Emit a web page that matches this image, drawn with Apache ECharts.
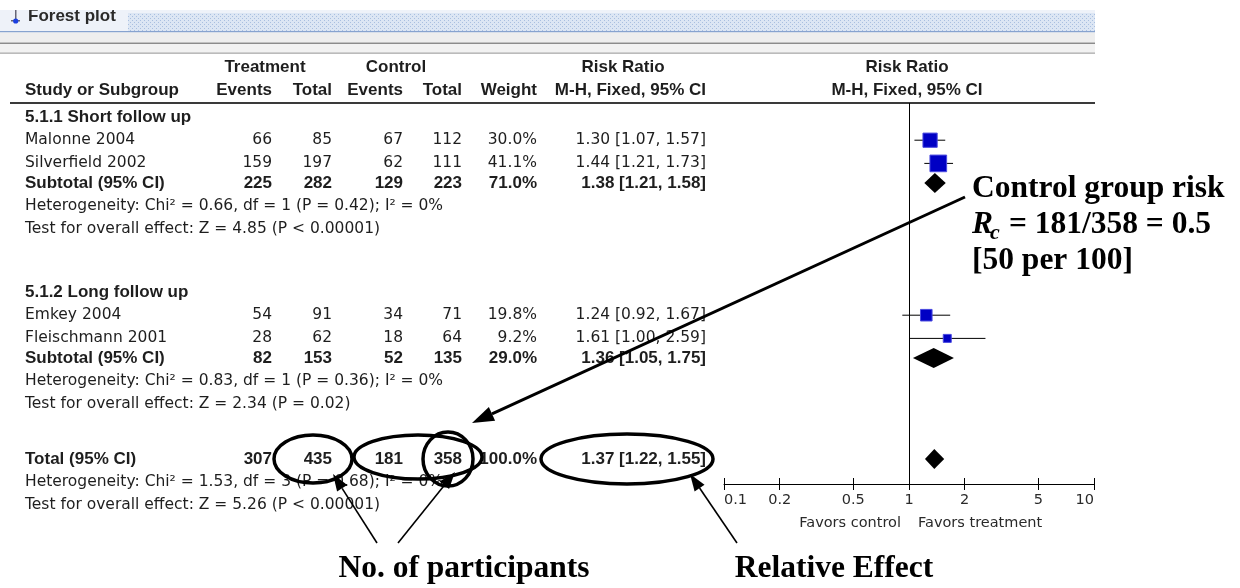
<!DOCTYPE html>
<html><head><meta charset="utf-8">
<script src="https://cdn.jsdelivr.net/npm/echarts@6/dist/echarts.min.js"></script>
<style>html,body{margin:0;padding:0;background:#fff}#c{width:1240px;height:588px}</style>
</head><body><div id="c"></div>
<script>
// ---------------- data ----------------
const studies   = ['Malonne 2004', 'Silverfield 2002', 'Emkey 2004', 'Fleischmann 2001'];
const studyGroup = [0, 0, 1, 1];
const trtEvents = [66, 159, 54, 28];
const trtTotal  = [85, 197, 91, 62];
const ctlEvents = [67, 62, 34, 18];
const ctlTotal  = [112, 111, 71, 64];
const weights   = [30.0, 41.1, 19.8, 9.2];
const rr        = [1.30, 1.44, 1.24, 1.61];
const rrLow     = [1.07, 1.21, 0.92, 1.00];
const rrHigh    = [1.57, 1.73, 1.67, 2.59];

const subgroups    = ['5.1.1 Short follow up', '5.1.2 Long follow up'];
const subTrtEvents = [225, 82];
const subTrtTotal  = [282, 153];
const subCtlEvents = [129, 52];
const subCtlTotal  = [223, 135];
const subWeights   = [71.0, 29.0];
const subRR        = [1.38, 1.36];
const subLow       = [1.21, 1.05];
const subHigh      = [1.58, 1.75];
const subHet  = ['Heterogeneity: Chi\u00b2 = 0.66, df = 1 (P = 0.42); I\u00b2 = 0%',
                 'Heterogeneity: Chi\u00b2 = 0.83, df = 1 (P = 0.36); I\u00b2 = 0%'];
const subTest = ['Test for overall effect: Z = 4.85 (P < 0.00001)',
                 'Test for overall effect: Z = 2.34 (P = 0.02)'];

const totalTrtEvents = 307, totalTrtTotal = 435, totalCtlEvents = 181, totalCtlTotal = 358;
const totalWeight = 100.0;
const totalRR = 1.37, totalLow = 1.22, totalHigh = 1.55;
const totalHet  = 'Heterogeneity: Chi\u00b2 = 1.53, df = 3 (P = 0.68); I\u00b2 = 0%';
const totalTest = 'Test for overall effect: Z = 5.26 (P < 0.00001)';

const axisTicks  = [0.1, 0.2, 0.5, 1, 2, 5, 10];
const axisTitles = ['Favors control', 'Favors treatment'];

// ---------------- layout / style ----------------
const W = 1240, H = 588;
const FIRST_ROW = 117;                                  // centre of first table row (px)
const PITCH = {group: 29, study: 23.2, sub: 19.5, note: 23.2, total: 21, blank: 33.7};
const FS = 15.5, FF = '"DejaVu Sans", Verdana, sans-serif';
const FSB = 17, FFB = '"Liberation Sans", Arial, sans-serif';
const SERIF = '"Liberation Serif", "Times New Roman", serif';
const SFS = 31.5;
const TXT = '#1e1e1e';
const COL = {te: 272, tt: 332, ce: 403, ct: 462, w: 537, rr: 706};
const PLOT = {left: 724, right: 1094, top: 103, bottom: 484};

const fmtRR = (a, l, h) => a.toFixed(2) + ' [' + l.toFixed(2) + ', ' + h.toFixed(2) + ']';

// build the row list
const rows = [];
const studyRow = [], subRow = [];
subgroups.forEach((g, gi) => {
  rows.push({kind: 'group', text: g});
  studies.forEach((s, k) => { if (studyGroup[k] === gi) { studyRow[k] = rows.length; rows.push({kind: 'study', k}); } });
  subRow[gi] = rows.length; rows.push({kind: 'sub', g: gi});
  rows.push({kind: 'note', text: subHet[gi]});
  rows.push({kind: 'note', text: subTest[gi]});
  rows.push({kind: 'blank'});
});
const totalRow = rows.length;
rows.push({kind: 'total'});
rows.push({kind: 'note', text: totalHet});
rows.push({kind: 'note', text: totalTest});

// vertical slot of each row (layout)
const rowPos = [];
rows.forEach((r, i) => { rowPos[i] = i === 0 ? FIRST_ROW : rowPos[i - 1] + PITCH[r.kind]; });

function tableItem(params, api) {
  const i = api.value(2);
  const r = rows[i];
  const y = api.coord([0, api.value(1)])[1];
  const ch = [];
  const t = (x, s, align, bold) => ch.push({type: 'text', style: {
    x: x, y: y, text: String(s), align: align, verticalAlign: 'middle',
    fontSize: bold ? FSB : FS, fontWeight: bold ? 'bold' : 'normal', fontFamily: bold ? FFB : FF, fill: TXT}});
  const nums = (a, b, c, d, w, rrs, bold) => {
    t(COL.te, a, 'right', bold); t(COL.tt, b, 'right', bold);
    t(COL.ce, c, 'right', bold); t(COL.ct, d, 'right', bold);
    t(COL.w, w.toFixed(1) + '%', 'right', bold); t(COL.rr, rrs, 'right', bold);
  };
  if (r.kind === 'group') t(25, r.text, 'left', true);
  else if (r.kind === 'note') t(25, r.text, 'left', false);
  else if (r.kind === 'study') {
    const k = r.k;
    t(25, studies[k], 'left', false);
    nums(trtEvents[k], trtTotal[k], ctlEvents[k], ctlTotal[k], weights[k], fmtRR(rr[k], rrLow[k], rrHigh[k]), false);
  } else if (r.kind === 'sub') {
    const g = r.g;
    t(25, 'Subtotal (95% CI)', 'left', true);
    nums(subTrtEvents[g], subTrtTotal[g], subCtlEvents[g], subCtlTotal[g], subWeights[g], fmtRR(subRR[g], subLow[g], subHigh[g]), true);
  } else if (r.kind === 'total') {
    t(25, 'Total (95% CI)', 'left', true);
    nums(totalTrtEvents, totalTrtTotal, totalCtlEvents, totalCtlTotal, totalWeight, fmtRR(totalRR, totalLow, totalHigh), true);
  }
  return {type: 'group', children: ch};
}

function studyItem(params, api) {
  const row = api.value(1);
  const c = api.coord([api.value(0), row]);
  const l = api.coord([api.value(2), row]);
  const h = api.coord([api.value(3), row]);
  const s = Math.max(8, 2.6 * Math.sqrt(api.value(4)));
  return {type: 'group', children: [
    {type: 'line', shape: {x1: l[0], y1: c[1], x2: h[0], y2: c[1]}, style: {stroke: '#000', lineWidth: 1}},
    {type: 'rect', shape: {x: c[0] - s / 2, y: c[1] - s / 2, width: s, height: s},
     style: {fill: '#0000c4', stroke: '#4a4ae0', lineWidth: 1}}
  ]};
}

function diamondItem(params, api) {
  const row = api.value(1);
  const c = api.coord([api.value(0), row]);
  const l = api.coord([api.value(2), row]);
  const h = api.coord([api.value(3), row]);
  const hh = 10;
  return {type: 'polygon', shape: {points: [[l[0], c[1]], [c[0], c[1] - hh], [h[0], c[1]], [c[0], c[1] + hh]]},
          style: {fill: '#000'}};
}

const chart = echarts.init(document.getElementById('c'), null, {renderer: 'canvas'});

const logAxisBase = {
  gridIndex: 1, type: 'log', logBase: 10, min: 0.1, max: 10,
  splitLine: {show: false}, minorTick: {show: false}, minorSplitLine: {show: false}
};

chart.setOption({
  animation: false,
  backgroundColor: '#fff',
  grid: [
    {left: 0, top: 0, width: W, height: H},
    {left: PLOT.left, top: PLOT.top, width: PLOT.right - PLOT.left, height: PLOT.bottom - PLOT.top}
  ],
  xAxis: [
    {gridIndex: 0, type: 'value', min: 0, max: W, show: false},
    Object.assign({}, logAxisBase, {
      position: 'bottom',
      axisLine: {show: true, lineStyle: {color: '#000', width: 1}},
      axisTick: {show: true, inside: true, customValues: axisTicks, length: 6, lineStyle: {color: '#000', width: 1}},
      axisLabel: {show: true, customValues: axisTicks, color: '#2a2a2a', fontSize: 14.5, fontFamily: FF, margin: 9,
                  alignMinLabel: 'left', alignMaxLabel: 'right',
                  formatter: v => String(+Number(v).toPrecision(3))}
    }),
    Object.assign({}, logAxisBase, {
      position: 'top', offset: -(PLOT.bottom - PLOT.top),
      axisLine: {show: false},
      axisTick: {show: true, inside: true, customValues: axisTicks, length: 6, lineStyle: {color: '#000', width: 1}},
      axisLabel: {show: false}
    })
  ],
  yAxis: [
    {gridIndex: 0, type: 'value', inverse: true, min: 0, max: H, show: false},
    {gridIndex: 1, type: 'value', inverse: true, min: PLOT.top, max: PLOT.bottom, show: false}
  ],
  series: [
    {type: 'custom', name: 'table', xAxisIndex: 0, yAxisIndex: 0, silent: true, clip: false,
     renderItem: tableItem, encode: {x: 0, y: 1}, data: rows.map((r, i) => [0, rowPos[i], i])},
    {type: 'custom', name: 'studies', xAxisIndex: 1, yAxisIndex: 1, silent: true, clip: false,
     renderItem: studyItem, encode: {x: 0, y: 1},
     data: studies.map((s, k) => [rr[k], rowPos[studyRow[k]], rrLow[k], rrHigh[k], weights[k]]),
     markLine: {silent: true, symbol: ['none', 'none'], label: {show: false},
                lineStyle: {color: '#000', width: 1, type: 'solid'}, data: [{xAxis: 1}]}},
    {type: 'custom', name: 'pooled', xAxisIndex: 1, yAxisIndex: 1, silent: true, clip: false,
     renderItem: diamondItem, encode: {x: 0, y: 1},
     data: subgroups.map((g, gi) => [subRR[gi], rowPos[subRow[gi]], subLow[gi], subHigh[gi]])
             .concat([[totalRR, rowPos[totalRow], totalLow, totalHigh]])}
  ]
});

// ---------------- decorations ----------------
const rowY = i => chart.convertToPixel({yAxisIndex: 0}, rowPos[i]);
const xOf = v => chart.convertToPixel({xAxisIndex: 1}, v);

// dotted pattern for title bar
const pc = document.createElement('canvas'); pc.width = 4; pc.height = 4;
const px = pc.getContext('2d');
px.fillStyle = '#dce6f4'; px.fillRect(0, 0, 4, 4);
px.fillStyle = '#a9bfe0'; px.fillRect(0, 0, 1, 1); px.fillRect(2, 2, 1, 1);

function arrow(x1, y1, x2, y2, lw, hl, hw) {
  const a = Math.atan2(y2 - y1, x2 - x1);
  const bx = x2 - hl * Math.cos(a), by = y2 - hl * Math.sin(a);
  const nx = -Math.sin(a) * hw / 2, ny = Math.cos(a) * hw / 2;
  return [
    {type: 'line', shape: {x1, y1, x2: bx, y2: by}, style: {stroke: '#000', lineWidth: lw}, z: 50},
    {type: 'polygon', shape: {points: [[x2, y2], [bx + nx, by + ny], [bx - nx, by - ny]]}, style: {fill: '#000'}, z: 50}
  ];
}
const ellipse = (cx, cy, rx, ry) => ({type: 'ellipse', shape: {cx, cy, rx, ry},
  style: {fill: 'none', stroke: '#000', lineWidth: 3.5}, z: 40});
const txt = (x, y, s, o) => ({type: 'text', z: 60, style: Object.assign({x, y, text: s, fill: TXT,
  fontFamily: FF, fontSize: FS, verticalAlign: 'middle'}, o || {})});
const bold = (x, y, s, o) => txt(x, y, s, Object.assign({fontFamily: FFB, fontSize: FSB, fontWeight: 'bold'}, o || {}));
const serif = (x, y, s, o) => txt(x, y, s, Object.assign({fontFamily: SERIF, fontWeight: 'bold', fontSize: SFS, fill: '#000'}, o || {}));

const yT = rowY(totalRow);
const xOne = xOf(1);
const g = [
  // window title bar
  {type: 'rect', shape: {x: 0, y: 10, width: 1095, height: 22}, style: {fill: '#eef2f9'}},
  {type: 'rect', shape: {x: 128, y: 13, width: 967, height: 18}, style: {fill: {image: pc, repeat: 'repeat'}}},
  {type: 'rect', shape: {x: 0, y: 31, width: 1095, height: 1.5}, style: {fill: '#87a3cf'}},
  {type: 'rect', shape: {x: 0, y: 32.5, width: 1095, height: 10}, style: {fill: '#eeeeee'}},
  {type: 'rect', shape: {x: 0, y: 42.5, width: 1095, height: 1.5}, style: {fill: '#8c8c8c'}},
  {type: 'rect', shape: {x: 0, y: 44, width: 1095, height: 8.5}, style: {fill: '#f2f2f2'}},
  {type: 'rect', shape: {x: 0, y: 52.5, width: 1095, height: 1.2}, style: {fill: '#a5a5a5'}},
  {type: 'rect', shape: {x: 15, y: 10, width: 1.5, height: 12}, style: {fill: '#667'}},
  {type: 'rect', shape: {x: 11, y: 20, width: 9, height: 1.5}, style: {fill: '#667'}},
  {type: 'circle', shape: {cx: 15.7, cy: 21, r: 2.6}, style: {fill: '#1a3fe0'}},
  bold(28, 16, 'Forest plot', {fontSize: 17, fill: '#2a2a2a'}),
  {type: 'rect', z: 70, shape: {x: 0, y: 0, width: W, height: 10}, style: {fill: '#fff'}},
  // header
  bold(265, 67, 'Treatment', {align: 'center'}),
  bold(396, 67, 'Control', {align: 'center'}),
  bold(623, 67, 'Risk Ratio', {align: 'center'}),
  bold(907, 67, 'Risk Ratio', {align: 'center'}),
  bold(25, 90, 'Study or Subgroup'),
  bold(COL.te, 90, 'Events', {align: 'right'}),
  bold(COL.tt, 90, 'Total', {align: 'right'}),
  bold(COL.ce, 90, 'Events', {align: 'right'}),
  bold(COL.ct, 90, 'Total', {align: 'right'}),
  bold(COL.w, 90, 'Weight', {align: 'right'}),
  bold(COL.rr, 90, 'M-H, Fixed, 95% CI', {align: 'right'}),
  bold(907, 90, 'M-H, Fixed, 95% CI', {align: 'center'}),
  {type: 'rect', shape: {x: 10, y: 102, width: 1085, height: 2}, style: {fill: '#3a3a3a'}},
  // axis titles
  txt(xOne - 8, 523, axisTitles[0], {align: 'right', fontSize: 14.5, fill: '#2a2a2a'}),
  txt(xOne + 9, 523, axisTitles[1], {align: 'left', fontSize: 14.5, fill: '#2a2a2a'}),
  // callout text
  serif(972, 189, 'Control group risk'),
  serif(972, 225, 'R', {fontStyle: 'italic'}),
  serif(990, 233, 'c', {fontStyle: 'italic', fontSize: 22}),
  serif(1001, 225, ' = 181/358 = 0.5'),
  serif(972, 261, '[50 per 100]'),
  serif(464, 569, 'No. of participants', {align: 'center'}),
  serif(834, 569, 'Relative Effect', {align: 'center'}),
  // ellipses around key numbers
  ellipse(COL.tt - 19, yT, 39, 24),
  ellipse(COL.ce + 15, yT - 2, 64, 22),
  ellipse(COL.ct - 14, yT, 25, 27),
  ellipse(COL.rr - 79, yT, 86, 25)
].concat(
  arrow(965, 197, 472, 423, 3, 22, 15),
  arrow(377, 543, 333, 474, 1.6, 17, 12),
  arrow(398, 543, 455, 472, 1.6, 17, 12),
  arrow(737, 543, 690, 474, 1.6, 17, 12)
);
chart.setOption({graphic: g});
</script></body></html>
